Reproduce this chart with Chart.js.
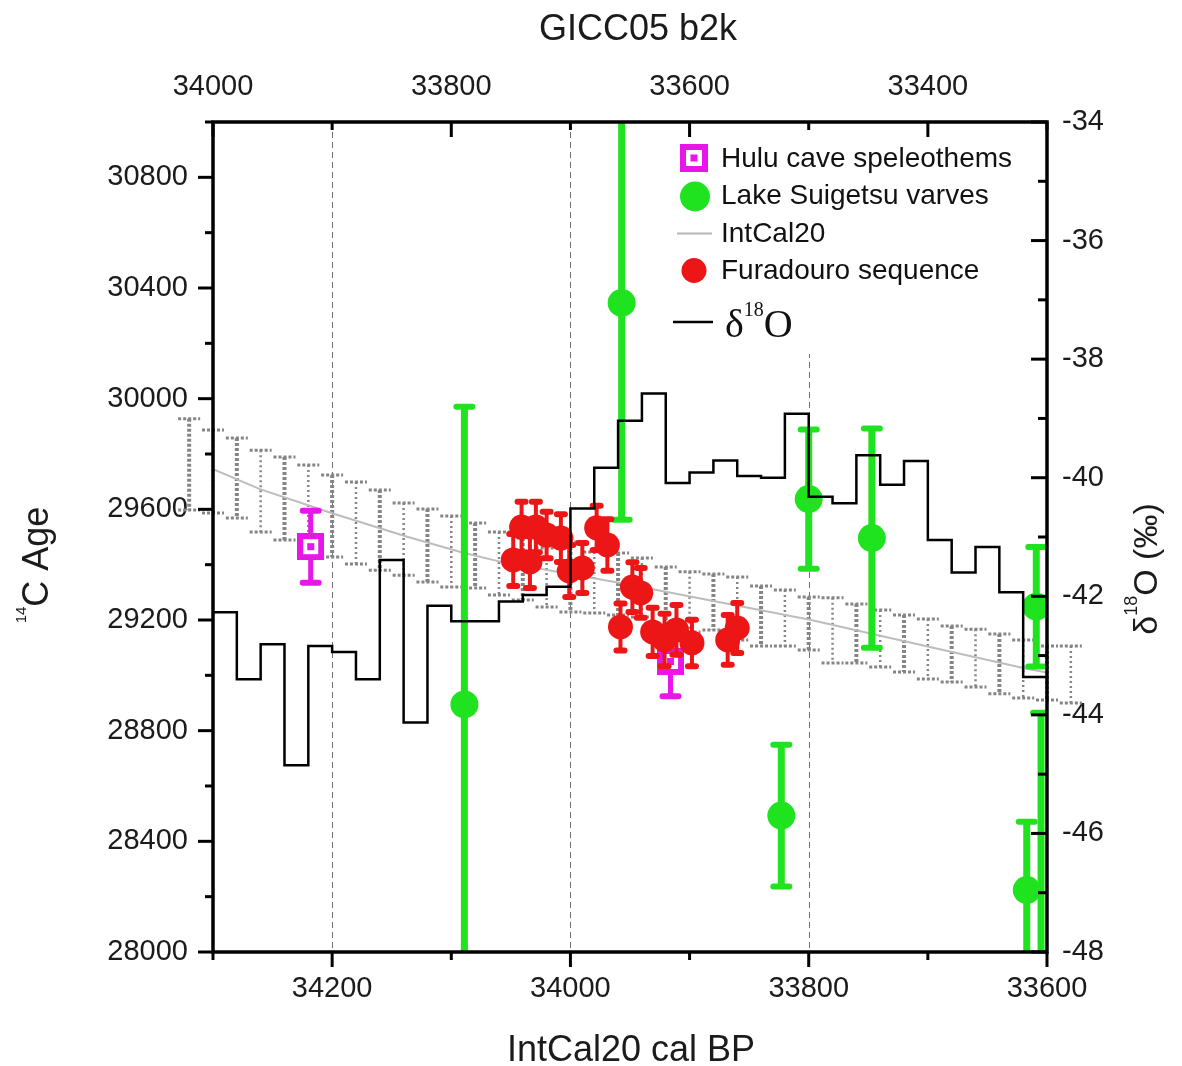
<!DOCTYPE html>
<html>
<head>
<meta charset="utf-8">
<script src="https://cdn.jsdelivr.net/npm/chart.js@4.4.1/dist/chart.umd.min.js"></script>
<style>
  html, body { margin: 0; padding: 0; background: #fff; }
  #chart { display: block; }
</style>
</head>
<body>
<canvas id="chart" width="1182" height="1066"></canvas>
<script>
// axis ticks
const calTicks = [34200, 34000, 33800, 33600];
const calMinor = [34300, 34100, 33900, 33700];
const calGrid = [34200, 34000, 33800];
const giccTicks = [34000, 33800, 33600, 33400];
const giccMinor = [33900, 33700, 33500, 33300];
const ageTicks = [28000, 28400, 28800, 29200, 29600, 30000, 30400, 30800];
const ageMinor = [28200, 28600, 29000, 29400, 29800, 30200, 30600, 31000];
const d18oTicks = [-48, -46, -44, -42, -40, -38, -36, -34];
const d18oMinor = [-47, -45, -43, -41, -39, -37, -35];

// Hulu cave speleothems
const huluCal = [34218, 33916];
const huluAge = [29465, 29050];
const huluErr = [130, 126];

// Lake Suigetsu varves
const suigetsuCal = [34089, 33957, 33800, 33747, 33823, 33609, 33617, 33605];
const suigetsuAge = [28895, 30346, 29637, 29496, 28493, 29248, 28224, 27800];
const suigetsuErr = [1076, 784, 252, 396, 256, 216, 247, 1065];

// Furadouro sequence
const furaCal = [34048, 34041, 34034, 34029, 34020, 34008, 34001, 33990, 33978, 33969,
                 33958, 33948, 33941, 33931, 33921, 33911, 33898, 33868, 33860];
const furaAge = [29417, 29536, 29410, 29536, 29507, 29496, 29377, 29388, 29533, 29471,
                 29175, 29319, 29298, 29157, 29128, 29164, 29117, 29128, 29171];
const furaErr = [94, 91, 94, 91, 84, 86, 94, 90, 80, 93,
                 85, 90, 90, 87, 95, 90, 84, 90, 90];

// IntCal20 curve
const intcalCal = [34300, 34260, 34200, 34137, 34090, 34059, 33958, 33841, 33799, 33702, 33618, 33600];
const intcalAge = [29745, 29672, 29586, 29501, 29443, 29411, 29334, 29236, 29201, 29106, 29025, 29010];

// IntCal20 uncertainty bars (dotted)
const intcalBarCal = [34320, 34300, 34280, 34260, 34240, 34220, 34200, 34180, 34160, 34140,
                      34120, 34100, 34080, 34060, 34040, 34020, 34000, 33980, 33960, 33940,
                      33920, 33900, 33880, 33860, 33840, 33820, 33800, 33780, 33760, 33740,
                      33720, 33700, 33680, 33660, 33640, 33620, 33600, 33580];
const intcalBarHigh = [29927, 29887, 29858, 29814, 29789, 29760, 29724, 29699, 29670, 29623,
                       29601, 29576, 29551, 29518, 29496, 29460, 29482, 29446, 29442, 29424,
                       29392, 29374, 29366, 29355, 29323, 29308, 29283, 29280, 29258, 29236,
                       29218, 29204, 29178, 29167, 29149, 29128, 29106, 29106];
const intcalBarLow = [29598, 29587, 29569, 29518, 29489, 29471, 29428, 29402, 29380, 29362,
                      29337, 29319, 29316, 29290, 29272, 29247, 29229, 29225, 29218, 29211,
                      29157, 29157, 29164, 29128, 29106, 29106, 29092, 29045, 29045, 29030,
                      29012, 28987, 28976, 28958, 28933, 28918, 28911, 28900];

// d18O (GICC05, 20 yr bins, start of each bin on the IntCal20 axis)
const d18oCal = [34300, 34280, 34260, 34240, 34220, 34200, 34180, 34160, 34140, 34120,
                 34100, 34080, 34060, 34040, 34020, 34000, 33980, 33960, 33940, 33920,
                 33900, 33880, 33860, 33840, 33820, 33800, 33780, 33760, 33740, 33720,
                 33700, 33680, 33660, 33640, 33620, 33600];
const d18oVal = [-42.27, -43.40, -42.81, -44.85, -42.84, -42.94, -43.40, -41.39, -44.13, -42.16,
                 -42.42, -42.42, -42.09, -41.98, -41.84, -40.52, -39.83, -39.04, -38.58, -40.09,
                 -39.91, -39.71, -39.97, -40.00, -38.92, -40.32, -40.43, -39.62, -40.12, -39.72,
                 -41.05, -41.60, -41.17, -41.93, -43.36, -43.36];

const RED = '#ec1616';
const GREEN = '#1fe31f';
const MAGENTA = '#e816e8';
const SANS = '"Liberation Sans", Arial, sans-serif';
const SERIF = '"Liberation Serif", "Times New Roman", serif';

// square marker with white ring for Hulu
function makeHuluMarker(size) {
  const c = document.createElement('canvas');
  c.width = size;
  c.height = size;
  const g = c.getContext('2d');
  g.fillStyle = MAGENTA;
  g.fillRect(0, 0, size, size);
  const w = Math.round(size * 0.56);
  g.fillStyle = '#fff';
  g.fillRect((size - w) / 2, (size - w) / 2, w, w);
  const m = Math.round(size * 0.26);
  g.fillStyle = MAGENTA;
  g.fillRect((size - m) / 2, (size - m) / 2, m, m);
  return c;
}
const huluMarker = makeHuluMarker(27);
const huluLegendMarker = makeHuluMarker(28);

const toPoints = (xs, ys) => xs.map((x, i) => ({ x: x, y: ys[i] }));

function line(ctx, x1, y1, x2, y2) {
  ctx.beginPath();
  ctx.moveTo(x1, y1);
  ctx.lineTo(x2, y2);
  ctx.stroke();
}

// text with a superscript part, e.g. 14C
function drawSupText(ctx, parts, x, y) {
  let cx = x;
  parts.forEach(p => {
    ctx.font = p.font;
    ctx.fillText(p.text, cx, y - (p.rise || 0));
    cx += ctx.measureText(p.text).width;
  });
}
function supWidth(ctx, parts) {
  let w = 0;
  parts.forEach(p => { ctx.font = p.font; w += ctx.measureText(p.text).width; });
  return w;
}

const decor = {
  id: 'decor',
  beforeDatasetsDraw(chart) {
    const { ctx, chartArea: a, scales } = chart;
    ctx.save();
    // dashed vertical grid lines
    ctx.strokeStyle = '#707070';
    ctx.lineWidth = 1;
    ctx.setLineDash([6, 4]);
    calGrid.forEach(v => {
      const p = Math.round(scales.x.getPixelForValue(v)) + 0.5;
      line(ctx, p, a.top, p, a.bottom);
    });
    // IntCal20 dotted uncertainty bars
    ctx.strokeStyle = '#858585';
    intcalBarCal.forEach((c, i) => {
      const px = scales.x.getPixelForValue(c);
      const top = scales.y.getPixelForValue(intcalBarHigh[i]);
      const bot = scales.y.getPixelForValue(intcalBarLow[i]);
      ctx.lineWidth = i % 2 ? 2.5 : 4;
      ctx.setLineDash(i % 2 ? [2, 3] : [3, 2]);
      line(ctx, px, top, px, bot);
      ctx.lineWidth = 3;
      ctx.setLineDash([3, 2]);
      line(ctx, px - 11, top, px + 11, top);
      line(ctx, px - 11, bot, px + 11, bot);
    });
    ctx.restore();
  },
  beforeDatasetDraw(chart, args) {
    const ds = chart.data.datasets[args.index];
    if (!ds.errors) return;
    const { ctx, chartArea: a, scales } = chart;
    const e = ds.errors;
    ctx.save();
    ctx.beginPath();
    ctx.rect(a.left, a.top, a.width, a.height);
    ctx.clip();
    ctx.strokeStyle = ds.borderColor;
    ds.data.forEach((pt, i) => {
      const px = scales.x.getPixelForValue(pt.x);
      const top = scales.y.getPixelForValue(pt.y + e.err[i]);
      const bot = scales.y.getPixelForValue(pt.y - e.err[i]);
      ctx.lineCap = 'butt';
      ctx.lineWidth = e.width;
      line(ctx, px, top, px, bot);
      ctx.lineCap = 'round';
      ctx.lineWidth = e.capWidth;
      line(ctx, px - e.cap, top, px + e.cap, top);
      line(ctx, px - e.cap, bot, px + e.cap, bot);
    });
    ctx.restore();
  },
  afterDatasetsDraw(chart) {
    const { ctx, chartArea: a, scales } = chart;
    ctx.save();
    // legend
    const lx = a.right - 353;
    const ly = a.top + 36;
    const gap = 37.5;
    ctx.fillStyle = '#fff';
    ctx.fillRect(lx - 28, a.top + 8, 370, 224);
    ctx.drawImage(huluLegendMarker, lx - 14, ly - 14);
    ctx.fillStyle = GREEN;
    ctx.beginPath();
    ctx.arc(lx + 1, ly + gap + 1, 15, 0, Math.PI * 2);
    ctx.fill();
    ctx.strokeStyle = '#b5b5b5';
    ctx.lineWidth = 2;
    line(ctx, lx - 17, ly + gap * 2 + 0.5, lx + 18, ly + gap * 2 + 0.5);
    ctx.fillStyle = RED;
    ctx.beginPath();
    ctx.arc(lx, ly + gap * 3, 12.5, 0, Math.PI * 2);
    ctx.fill();
    ctx.fillStyle = '#111';
    ctx.font = '28px ' + SANS;
    ctx.textBaseline = 'middle';
    ctx.textAlign = 'left';
    ['Hulu cave speleothems', 'Lake Suigetsu varves', 'IntCal20', 'Furadouro sequence']
      .forEach((t, i) => ctx.fillText(t, lx + 27, ly + gap * i + 1));
    ctx.strokeStyle = '#000';
    ctx.lineWidth = 2.5;
    line(ctx, lx - 21, ly + 164, lx + 19, ly + 164);
    ctx.textBaseline = 'alphabetic';
    drawSupText(ctx, [
      { text: 'δ', font: '40px ' + SERIF },
      { text: '18', font: '20px ' + SERIF, rise: 21 },
      { text: 'O', font: '40px ' + SERIF }
    ], lx + 31, ly + 179);

    // ticks
    ctx.strokeStyle = '#000';
    ctx.lineCap = 'butt';
    ctx.lineWidth = 3;
    calTicks.forEach(v => { const p = scales.x.getPixelForValue(v); line(ctx, p, a.bottom, p, a.bottom + 15); });
    calMinor.forEach(v => { const p = scales.x.getPixelForValue(v); line(ctx, p, a.bottom, p, a.bottom + 8); });
    giccTicks.forEach(v => { const p = scales.x2.getPixelForValue(v); line(ctx, p, a.top, p, a.top + 15); });
    giccMinor.forEach(v => { const p = scales.x2.getPixelForValue(v); line(ctx, p, a.top, p, a.top + 8); });
    ageTicks.forEach(v => { const p = scales.y.getPixelForValue(v); line(ctx, a.left, p, a.left - 15, p); });
    ageMinor.forEach(v => { const p = scales.y.getPixelForValue(v); line(ctx, a.left, p, a.left - 8, p); });
    d18oTicks.forEach(v => { const p = scales.y2.getPixelForValue(v); line(ctx, a.right, p, a.right - 16, p); });
    d18oMinor.forEach(v => { const p = scales.y2.getPixelForValue(v); line(ctx, a.right, p, a.right - 9, p); });
    // frame
    ctx.lineWidth = 3.5;
    ctx.strokeRect(a.left, a.top, a.width, a.height);
    ctx.restore();
  },
  afterDraw(chart) {
    const { ctx, chartArea: a } = chart;
    ctx.save();
    ctx.fillStyle = '#1b1b1b';
    ctx.textBaseline = 'alphabetic';
    ctx.textAlign = 'center';
    ctx.font = '36px ' + SANS;
    ctx.fillText('GICC05 b2k', 638, 40);
    ctx.fillText('IntCal20 cal BP', 631, 1061);
    ctx.textAlign = 'left';

    // left title, rotated
    const left = [
      { text: '14', font: '15px ' + SANS, rise: 22 },
      { text: 'C Age', font: '36px ' + SANS }
    ];
    ctx.save();
    ctx.translate(35, (a.top + a.bottom) / 2 + 28);
    ctx.rotate(-Math.PI / 2);
    drawSupText(ctx, left, -supWidth(ctx, left) / 2, 13);
    ctx.restore();

    // right title, rotated
    const right = [
      { text: 'δ', font: '34px ' + SANS },
      { text: '18', font: '18px ' + SANS, rise: 20 },
      { text: 'O (‰)', font: '34px ' + SANS }
    ];
    ctx.save();
    ctx.translate(1147, (a.top + a.bottom) / 2 + 32);
    ctx.rotate(-Math.PI / 2);
    drawSupText(ctx, right, -supWidth(ctx, right) / 2, 10);
    ctx.restore();
    ctx.restore();
  }
};

const tickFont = { family: SANS, size: 29 };
const fixedTicks = list => scale => { scale.ticks = list.map(v => ({ value: v })); };

new Chart(document.getElementById('chart'), {
  type: 'scatter',
  data: {
    datasets: [
      {
        label: 'δ18O',
        type: 'line',
        data: toPoints(d18oCal, d18oVal),
        yAxisID: 'y2',
        stepped: true,
        borderColor: '#000',
        borderWidth: 2.5,
        pointRadius: 0,
        fill: false,
        clip: 0,
        order: 0
      },
      {
        label: 'Furadouro sequence',
        data: toPoints(furaCal, furaAge),
        yAxisID: 'y',
        backgroundColor: RED,
        borderColor: RED,
        borderWidth: 0,
        pointRadius: 12.5,
        errors: { err: furaErr, width: 4, cap: 4, capWidth: 6 },
        clip: 0,
        order: 1
      },
      {
        label: 'Lake Suigetsu varves',
        data: toPoints(suigetsuCal, suigetsuAge),
        yAxisID: 'y',
        backgroundColor: GREEN,
        borderColor: GREEN,
        borderWidth: 0,
        pointRadius: 14,
        errors: { err: suigetsuErr, width: 7, cap: 8, capWidth: 6 },
        clip: 0,
        order: 2
      },
      {
        label: 'Hulu cave speleothems',
        data: toPoints(huluCal, huluAge),
        yAxisID: 'y',
        pointStyle: huluMarker,
        backgroundColor: MAGENTA,
        borderColor: MAGENTA,
        errors: { err: huluErr, width: 5, cap: 8, capWidth: 6 },
        clip: 0,
        order: 3
      },
      {
        label: 'IntCal20',
        type: 'line',
        data: toPoints(intcalCal, intcalAge),
        yAxisID: 'y',
        borderColor: '#bdbdbd',
        borderWidth: 2,
        pointRadius: 0,
        fill: false,
        tension: 0,
        clip: 0,
        order: 4
      }
    ]
  },
  options: {
    responsive: false,
    animation: false,
    devicePixelRatio: 1,
    layout: { padding: 0 },
    plugins: { legend: { display: false }, tooltip: { enabled: false } },
    scales: {
      x: {
        type: 'linear', axis: 'x', position: 'bottom',
        min: 33600, max: 34300, reverse: true,
        afterBuildTicks: fixedTicks(calTicks),
        afterFit: s => { s.height = 114; },
        ticks: { font: tickFont, color: '#1b1b1b', padding: 20, maxRotation: 0, autoSkip: false, callback: v => String(v) },
        grid: { display: false, drawTicks: false },
        border: { display: false }
      },
      x2: {
        type: 'linear', axis: 'x', position: 'top',
        min: 33300, max: 34000, reverse: true,
        afterBuildTicks: fixedTicks(giccTicks),
        afterFit: s => { s.height = 122; },
        ticks: { font: tickFont, color: '#1b1b1b', padding: 18, maxRotation: 0, autoSkip: false, callback: v => String(v) },
        grid: { display: false, drawTicks: false },
        border: { display: false }
      },
      y: {
        type: 'linear', axis: 'y', position: 'left',
        min: 28000, max: 31000,
        afterBuildTicks: fixedTicks(ageTicks),
        afterFit: s => { s.width = 213; },
        ticks: { font: tickFont, color: '#1b1b1b', padding: 25, autoSkip: false, callback: v => String(v) },
        grid: { display: false, drawTicks: false },
        border: { display: false }
      },
      y2: {
        type: 'linear', axis: 'y', position: 'right',
        min: -48, max: -34,
        afterBuildTicks: fixedTicks(d18oTicks),
        afterFit: s => { s.width = 135; },
        ticks: { font: tickFont, color: '#1b1b1b', padding: 15, autoSkip: false, callback: v => String(v) },
        grid: { display: false, drawTicks: false },
        border: { display: false }
      }
    }
  },
  plugins: [decor]
});
</script>
</body>
</html>
